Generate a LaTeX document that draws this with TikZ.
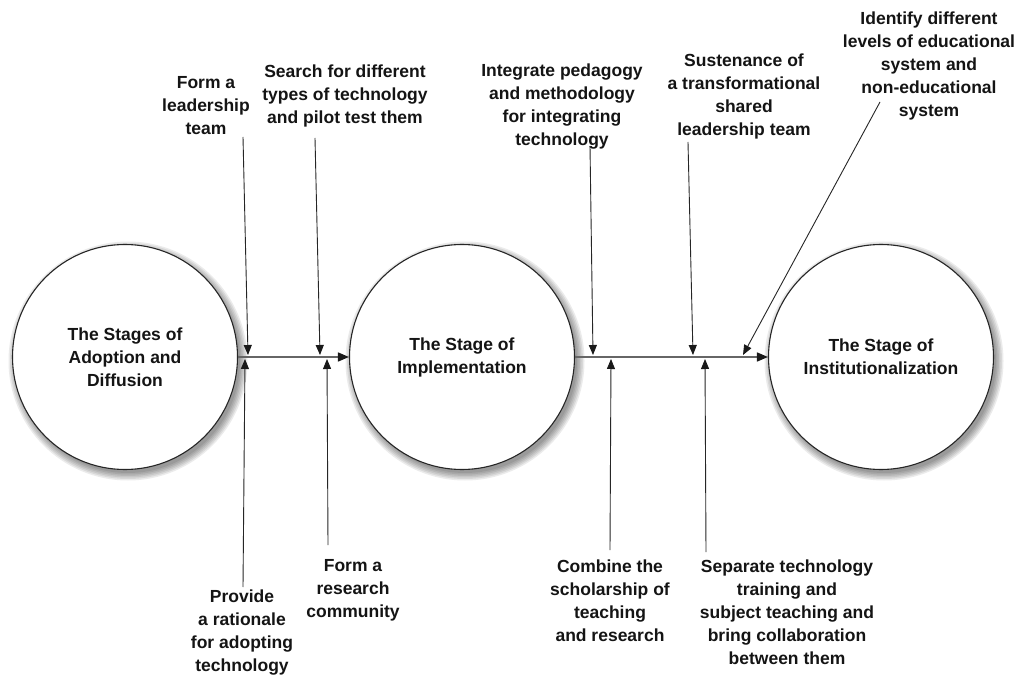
\documentclass[tikz,border=0pt]{standalone}
\usepackage{fontspec}
\setmainfont{Liberation Sans}
\usetikzlibrary{arrows.meta,calc}
\begin{document}
\begin{tikzpicture}[x=1pt,y=-1pt,
  lbl/.style={align=center,font=\fontsize{17.5}{23}\selectfont\bfseries,text=black!92,inner sep=0pt},
  stage/.style={circle,draw=black!85,line width=1.1pt,fill=white,minimum size=225pt,inner sep=0pt,align=center,font=\fontsize{17.5}{23}\selectfont\bfseries,text=black!92},
  feed/.style={draw=black!85,line width=0.9pt,-{Triangle[length=10pt,width=8pt,color=black!90]}},
  flow/.style={draw=black!60,line width=1.6pt,-{Triangle[length=11pt,width=9pt,color=black!90]}}]
\useasboundingbox (0,0) rectangle (1021,679);
\fill[white] (0,0) rectangle (1021,679);
% soft shadows
\foreach \cx in {125,462,881}{
  \foreach \r in {112,113.5,115,116.5,118,119.5}{
    \fill[black,opacity=0.08] (\cx+3,361) circle[radius=\r pt];
  }
}
% stages
\node[stage] (s1) at (125,357) {The Stages of\\Adoption and\\Diffusion};
\node[stage] (s2) at (462,357) {The Stage of\\Implementation};
\node[stage] (s3) at (881,357) {The Stage of\\Institutionalization};
\draw[flow] (s1) -- (s2);
\draw[flow] (s2) -- (s3);
% top labels
\node[lbl] (t1) at (206,106) {Form a\\leadership\\team};
\node[lbl] (t2) at (345,96) {Search for different\\types of technology\\and pilot test them};
\node[lbl] (t3) at (562,107) {Integrate pedagogy\\and methodology\\for integrating\\technology};
\node[lbl] (t4) at (744,96) {Sustenance of\\a transformational\\shared\\leadership team};
\node[lbl] (t5) at (929,66) {Identify different\\levels of educational\\system and\\non-educational\\system};
% bottom labels
\node[lbl] (b1) at (242,633) {Provide\\a rationale\\for adopting\\technology};
\node[lbl] (b2) at (353,590) {Form a\\research\\community};
\node[lbl] (b3) at (610,601) {Combine the\\scholarship of\\teaching\\and research};
\node[lbl] (b4) at (787,612) {Separate technology\\training and\\subject teaching and\\bring collaboration\\between them};
% connector ends
\coordinate (t1s) at (243,137); \coordinate (t1e) at (248,355);
\coordinate (t2s) at (315,138); \coordinate (t2e) at (320,355);
\coordinate (t3s) at (590,146); \coordinate (t3e) at (593,355);
\coordinate (t4s) at (688,142); \coordinate (t4e) at (693,355);
\coordinate (t5s) at (880,102); \coordinate (t5e) at (743,355);
\coordinate (b1s) at (243,587); \coordinate (b1e) at (245,359);
\coordinate (b2s) at (328,545); \coordinate (b2e) at (327,359);
\coordinate (b3s) at (610,550); \coordinate (b3e) at (611,359);
\coordinate (b4s) at (706,552); \coordinate (b4e) at (705,359);
\foreach \n in {t1,t2,t3,t4,t5,b1,b2,b3,b4}{
  \draw[feed] (\n s) -- (\n e);
}
\end{tikzpicture}
\end{document}
